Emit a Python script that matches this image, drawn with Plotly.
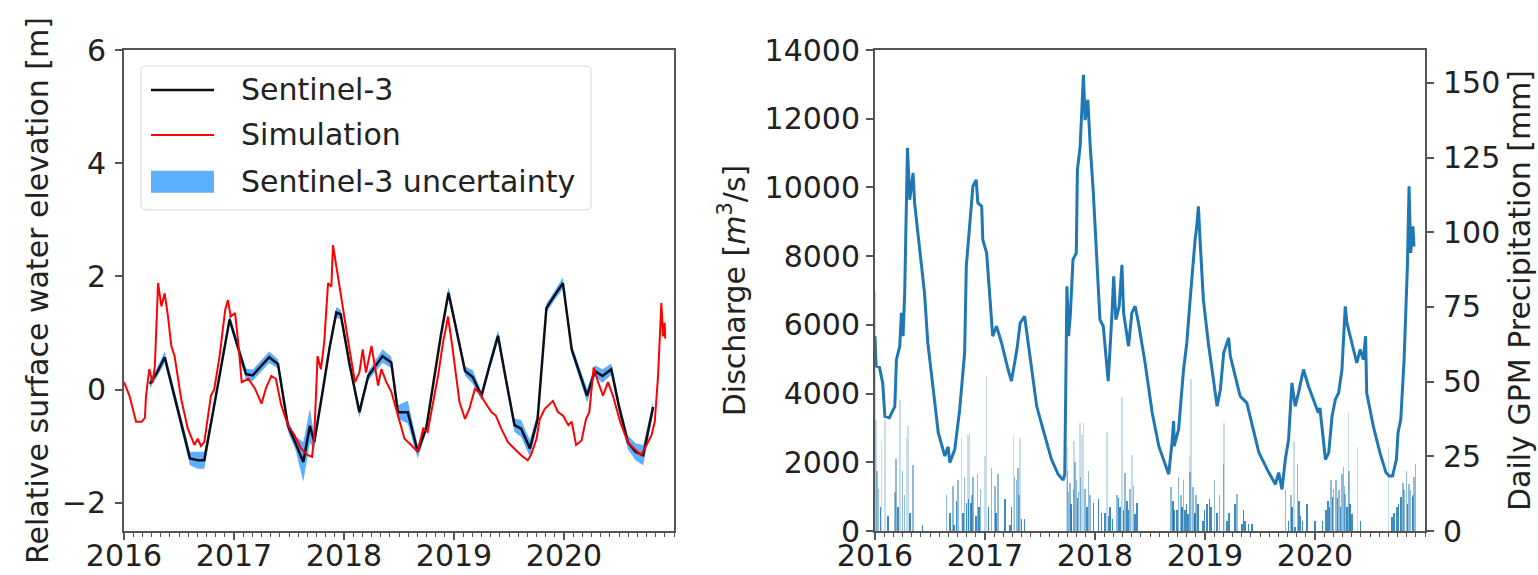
import plotly.graph_objects as go

# ---------------- Left panel data (decimal years) ----------------
s3_t = [2016.235, 2016.30, 2016.37, 2016.45, 2016.52, 2016.60, 2016.67, 2016.73, 2016.81, 2016.88,
        2016.96, 2017.04, 2017.11, 2017.17, 2017.25, 2017.32, 2017.40, 2017.49, 2017.56, 2017.63,
        2017.69, 2017.73, 2017.80, 2017.87, 2017.93, 2017.97, 2018.05, 2018.14, 2018.22, 2018.28,
        2018.35, 2018.43, 2018.49, 2018.58, 2018.67, 2018.75, 2018.82, 2018.88, 2018.95, 2019.03,
        2019.10, 2019.17, 2019.25, 2019.32, 2019.40, 2019.47, 2019.55, 2019.61, 2019.69, 2019.76,
        2019.84, 2019.91, 2019.99, 2020.07, 2020.14, 2020.21, 2020.28, 2020.35, 2020.43, 2020.50,
        2020.58, 2020.65, 2020.72, 2020.81]
s3_v = [0.10, 0.30, 0.57, -0.05, -0.60, -1.22, -1.25, -1.25, -0.39, 0.37,
        1.24, 0.72, 0.27, 0.25, 0.42, 0.57, 0.45, -0.64, -0.95, -1.28,
        -0.64, -0.93, -0.10, 0.75, 1.36, 1.33, 0.45, -0.40, 0.24, 0.40,
        0.59, 0.48, -0.40, -0.40, -1.10, -0.66, 0.20, 0.95, 1.71, 1.00,
        0.33, 0.22, -0.11, 0.40, 0.95, 0.20, -0.63, -0.69, -1.04, -0.52,
        1.44, 1.65, 1.88, 0.71, 0.30, -0.11, 0.33, 0.24, 0.36, -0.30,
        -0.93, -1.10, -1.16, -0.31]
s3_unc = [0.08, 0.08, 0.10, 0.10, 0.10, 0.12, 0.15, 0.15, 0.08, 0.08,
          0.08, 0.08, 0.10, 0.10, 0.10, 0.10, 0.08, 0.10, 0.12, 0.35,
          0.30, 0.12, 0.08, 0.08, 0.10, 0.08, 0.08, 0.10, 0.08, 0.10,
          0.12, 0.10, 0.12, 0.20, 0.12, 0.08, 0.08, 0.08, 0.10, 0.08,
          0.08, 0.12, 0.08, 0.08, 0.10, 0.08, 0.12, 0.15, 0.15, 0.10,
          0.08, 0.08, 0.10, 0.08, 0.08, 0.12, 0.10, 0.12, 0.10, 0.10,
          0.12, 0.15, 0.18, 0.10]

sim_t = [2016.00, 2016.05, 2016.11, 2016.16, 2016.19, 2016.20, 2016.23, 2016.26, 2016.28, 2016.31,
         2016.34, 2016.37, 2016.40, 2016.43, 2016.46, 2016.52, 2016.58, 2016.64, 2016.67, 2016.70,
         2016.73, 2016.79, 2016.82, 2016.87, 2016.92, 2016.945, 2016.97, 2017.01, 2017.04, 2017.07,
         2017.13, 2017.19, 2017.25, 2017.29, 2017.34, 2017.38, 2017.43, 2017.49, 2017.55, 2017.61,
         2017.67, 2017.71, 2017.73, 2017.76, 2017.79, 2017.82, 2017.855, 2017.885, 2017.90, 2017.93,
         2017.98, 2018.04, 2018.10, 2018.14, 2018.17, 2018.20, 2018.25, 2018.28, 2018.31, 2018.34,
         2018.385, 2018.43, 2018.49, 2018.55, 2018.61, 2018.67, 2018.72, 2018.76, 2018.855, 2018.90,
         2018.93, 2018.945, 2018.98, 2019.01, 2019.05, 2019.10, 2019.14, 2019.19, 2019.23, 2019.28,
         2019.34, 2019.38, 2019.43, 2019.49, 2019.55, 2019.61, 2019.67, 2019.70, 2019.75, 2019.78,
         2019.825, 2019.90, 2019.945, 2019.99, 2020.04, 2020.07, 2020.11, 2020.16, 2020.20, 2020.23,
         2020.27, 2020.31, 2020.355, 2020.40, 2020.445, 2020.51, 2020.58, 2020.64, 2020.70, 2020.75,
         2020.795, 2020.825, 2020.855, 2020.885, 2020.90, 2020.915, 2020.92]
sim_v = [0.13, -0.11, -0.57, -0.57, -0.50, -0.11, 0.36, 0.12, 0.40, 1.88,
         1.47, 1.70, 1.29, 0.77, 0.59, -0.17, -0.69, -0.98, -0.87, -1.00,
         -0.93, -0.11, 0.00, 0.60, 1.41, 1.58, 1.29, 1.35, 0.80, 0.13,
         0.19, 0.02, -0.25, 0.02, 0.24, 0.19, -0.28, -0.63, -0.81, -1.04,
         -1.16, -1.19, -0.81, 0.59, 0.36, 0.83, 1.88, 1.82, 2.55, 2.17,
         1.58, 0.83, 0.13, 0.30, 0.71, 0.30, 0.77, 0.42, 0.07, 0.36,
         0.13, -0.04, -0.46, -0.87, -0.98, -1.10, -0.69, -0.75, 0.24, 0.83,
         1.12, 1.29, 0.83, 0.42, -0.22, -0.52, -0.34, 0.01, -0.05, -0.22,
         -0.40, -0.46, -0.69, -0.93, -1.04, -1.16, -1.25, -1.16, -0.87, -0.52,
         -0.34, -0.20, -0.40, -0.46, -0.63, -0.57, -0.98, -0.90, -0.52, -0.40,
         0.39, 0.13, -0.11, 0.13, -0.11, -0.57, -0.93, -1.04, -1.16, -0.98,
         -0.81, -0.57, 0.24, 1.53, 0.94, 1.18, 0.90]

# ---------------- Right panel data ----------------
q_t = [2016.00, 2016.01, 2016.04, 2016.07, 2016.09, 2016.13, 2016.18, 2016.195, 2016.225, 2016.24,
       2016.255, 2016.27, 2016.295, 2016.316, 2016.346, 2016.36, 2016.39, 2016.42, 2016.45, 2016.48,
       2016.53, 2016.575, 2016.635, 2016.665, 2016.68, 2016.725, 2016.77, 2016.815, 2016.83, 2016.86,
       2016.89, 2016.92, 2016.935, 2016.97, 2016.98, 2017.015, 2017.06, 2017.07, 2017.105, 2017.15,
       2017.21, 2017.24, 2017.29, 2017.32, 2017.36, 2017.39, 2017.42, 2017.47, 2017.545, 2017.605,
       2017.665, 2017.71, 2017.725, 2017.745, 2017.76, 2017.775, 2017.80, 2017.83, 2017.84, 2017.865,
       2017.895, 2017.91, 2017.935, 2017.955, 2017.985, 2018.015, 2018.045, 2018.075, 2018.11, 2018.12,
       2018.155, 2018.17, 2018.19, 2018.22, 2018.245, 2018.26, 2018.305, 2018.335, 2018.365, 2018.395,
       2018.455, 2018.52, 2018.58, 2018.67, 2018.70, 2018.715, 2018.72, 2018.76, 2018.805, 2018.835,
       2018.865, 2018.895, 2018.91, 2018.925, 2018.94, 2018.955, 2018.985, 2019.03, 2019.08, 2019.11,
       2019.14, 2019.17, 2019.215, 2019.23, 2019.275, 2019.32, 2019.38, 2019.43, 2019.49, 2019.58,
       2019.64, 2019.67, 2019.70, 2019.73, 2019.76, 2019.79, 2019.82, 2019.85, 2019.895, 2019.94,
       2019.985, 2020.03, 2020.045, 2020.095, 2020.125, 2020.155, 2020.185, 2020.215, 2020.245, 2020.275,
       2020.29, 2020.32, 2020.35, 2020.38, 2020.41, 2020.44, 2020.46, 2020.47, 2020.53, 2020.59,
       2020.645, 2020.675, 2020.705, 2020.74, 2020.755, 2020.78, 2020.81, 2020.84, 2020.855, 2020.87,
       2020.89, 2020.90]
q_v = [5670, 4800, 4770, 4310, 3340, 3300, 3620, 4990, 5380, 6350,
       5670, 6930, 11150, 9640, 10420, 9550, 8670, 7700, 6930, 5480,
       4020, 2860, 2180, 2450, 1990, 2370, 3540, 5190, 7700, 8770,
       10030, 10220, 9550, 9450, 8480, 8090, 6150, 5670, 5960, 5480,
       4700, 4360, 5280, 6060, 6250, 5570, 4800, 3630, 2760, 2080,
       1650, 1480, 1650, 7120, 5670, 6250, 7900, 8090, 10510, 11190,
       13280, 11960, 12550, 11290, 9840, 8090, 6150, 5960, 4510, 4360,
       6350, 7410, 6150, 6540, 7750, 6350, 5380, 6350, 6540, 6060,
       4900, 3440, 2470, 1650, 2570, 3200, 2470, 2960, 4700, 5480,
       6740, 8090, 8480, 8870, 9450, 8480, 6740, 5480, 4220, 3630,
       4120, 5190, 5620, 5090, 4510, 3920, 3730, 3050, 2280, 1700,
       1360, 1700, 1210, 2080, 2670, 4310, 3630, 4020, 4700, 4220,
       3830, 3440, 3580, 2080, 2280, 3340, 3830, 4020, 4700, 6540,
       6060, 5670, 5190, 4890, 5280, 4990, 5670, 4020, 3050, 2280,
       1700, 1600, 1600, 2080, 2860, 3250, 4990, 7700, 10030, 8090,
       8870, 8280]

p_t = [2016.00, 2016.01, 2016.02, 2016.03, 2016.05, 2016.06, 2016.09, 2016.12, 2016.18, 2016.19,
       2016.21, 2016.225, 2016.25, 2016.27, 2016.285, 2016.30, 2016.32, 2016.346, 2016.43, 2016.65,
       2016.68, 2016.71, 2016.72, 2016.74, 2016.756, 2016.786, 2016.80, 2016.815, 2016.83, 2016.845,
       2016.85, 2016.86, 2016.875, 2016.88, 2016.89, 2016.92, 2016.93, 2016.945, 2016.96, 2017.00,
       2017.015, 2017.03, 2017.06, 2017.09, 2017.10, 2017.12, 2017.18, 2017.225, 2017.24, 2017.257,
       2017.27, 2017.285, 2017.30, 2017.31, 2017.318, 2017.33, 2017.36, 2017.743, 2017.75, 2017.758,
       2017.773, 2017.78, 2017.788, 2017.803, 2017.81, 2017.818, 2017.833, 2017.84, 2017.848, 2017.865,
       2017.87, 2017.88, 2017.895, 2017.91, 2017.925, 2017.94, 2017.955, 2017.985, 2018.03, 2018.06,
       2018.09, 2018.107, 2018.122, 2018.137, 2018.16, 2018.20, 2018.213, 2018.228, 2018.244, 2018.259,
       2018.274, 2018.29, 2018.305, 2018.32, 2018.335, 2018.35, 2018.365, 2018.38, 2018.693, 2018.71,
       2018.72, 2018.745, 2018.76, 2018.78, 2018.79, 2018.805, 2018.82, 2018.83, 2018.845, 2018.86,
       2018.866, 2018.875, 2018.89, 2018.905, 2018.91, 2018.92, 2018.935, 2018.98, 2018.995, 2019.02,
       2019.04, 2019.055, 2019.087, 2019.11, 2019.13, 2019.17, 2019.175, 2019.20, 2019.22, 2019.275,
       2019.29, 2019.335, 2019.35, 2019.365, 2019.395, 2019.425, 2019.73, 2019.76, 2019.78, 2019.79,
       2019.81, 2019.82, 2019.84, 2019.855, 2019.87, 2019.885, 2019.925, 2020.00, 2020.07, 2020.10,
       2020.12, 2020.13, 2020.145, 2020.16, 2020.17, 2020.19, 2020.205, 2020.22, 2020.23, 2020.245,
       2020.26, 2020.27, 2020.275, 2020.29, 2020.305, 2020.31, 2020.32, 2020.335, 2020.385, 2020.415,
       2020.67, 2020.70, 2020.72, 2020.745, 2020.76, 2020.78, 2020.80, 2020.81, 2020.83, 2020.84,
       2020.855, 2020.87, 2020.885, 2020.89, 2020.90, 2020.915]
p_v = [80, 37, 20, 14, 8, 30, 37, 5, 13, 24,
       8, 44, 20, 12, 31, 35, 6, 22, 2, 12,
       6, 15, 2, 10, 17, 31, 6, 18, 9.5, 32,
       10.6, 33, 9.5, 12, 18, 5, 19, 8, 14, 25,
       52, 8, 21, 15, 6, 19, 10.6, 2, 8, 32,
       18, 17, 21, 12, 31, 4, 4, 28, 20, 13,
       16, 9, 7, 14, 30, 23, 17, 11, 13, 36,
       18, 32, 36, 14, 8, 20, 12, 9.5, 10.6, 6,
       6, 33, 5, 8, 4, 12, 11, 8, 45, 7,
       19.5, 10, 7, 14, 25.6, 15, 5.6, 9.5, 14.7, 10,
       7, 7, 18, 12, 8, 17, 7, 9, 5.6, 25,
       19.7, 51, 14.7, 5.8, 6, 12, 9, 3.5, 7, 9,
       10.8, 8, 17, 6, 12, 22.5, 36, 3.5, 6, 9,
       12.5, 2.5, 7, 3.5, 2.5, 2.5, 13.6, 3.5, 12, 8,
       30, 1.3, 22.5, 10, 5, 3.5, 9, 3.5, 3.5, 7,
       10, 8, 17, 11.4, 14, 17, 11, 13.6, 8, 19,
       21.4, 15, 12.5, 8, 40, 20, 9, 5.8, 28, 3.5,
       28, 4.7, 6, 8, 9, 11.4, 16, 13.6, 20, 9,
       15.8, 13.6, 11.4, 12, 18, 22.5]

year_ticks = [2016, 2017, 2018, 2019, 2020]
year_labels = ["2016", "2017", "2018", "2019", "2020"]
legend_labels = ["Sentinel-3", "Simulation", "Sentinel-3 uncertainty"]

# derived band
s3_upper = [v + u for v, u in zip(s3_v, s3_unc)]
s3_lower = [v - u for v, u in zip(s3_v, s3_unc)]

# bar shading: tall single-day bars look faint, short clustered ones darker
bar_colors = []
for p in p_v:
    if p < 12:
        a = 0.85
    elif p < 25:
        a = 0.5
    else:
        a = 0.25
    bar_colors.append(f"rgba(31,119,180,{a})")

FONT = "DejaVu Sans"
TXT = "#222222"
SPINE = "#555555"
BAND = "rgba(30,144,255,0.72)"
BLACK = "#0b0f1a"

fig = go.Figure()

# left panel
fig.add_trace(go.Scatter(x=s3_t, y=s3_lower, mode="lines", line=dict(width=0, color="rgba(0,0,0,0)"),
                         showlegend=False, hoverinfo="skip", xaxis="x", yaxis="y"))
fig.add_trace(go.Scatter(x=s3_t, y=s3_upper, mode="lines", line=dict(width=0, color=BAND),
                         fill="tonexty", fillcolor=BAND, name=legend_labels[2], showlegend=False,
                         xaxis="x", yaxis="y"))
fig.add_trace(go.Scatter(x=s3_t, y=s3_v, mode="lines", line=dict(color=BLACK, width=2.5),
                         name=legend_labels[0], showlegend=False, xaxis="x", yaxis="y"))
fig.add_trace(go.Scatter(x=sim_t, y=sim_v, mode="lines", line=dict(color="red", width=2),
                         name=legend_labels[1], showlegend=False, xaxis="x", yaxis="y"))

# right panel
fig.add_trace(go.Bar(x=p_t, y=p_v, width=0.014, marker=dict(color=bar_colors, line=dict(width=0)),
                     showlegend=False, xaxis="x2", yaxis="y3"))
fig.add_trace(go.Scatter(x=q_t, y=q_v, mode="lines", line=dict(color="#1f77b4", width=3),
                         showlegend=False, xaxis="x2", yaxis="y4"))

W, H = 1538, 575
L, R, T, B = 124, 113, 50, 43.5
pw = W - L - R
ph = H - T - B
left_dom = [0, 550 / pw]
right_dom = [(875 - L) / pw, 1]


def px_x(px):
    return (px - L) / pw


def px_y(py):
    return 1 - (py - T) / ph


# ---- legend box (drawn as layout decoration, like matplotlib's legend) ----
bx0, bx1, by0, by1 = px_x(141), px_x(591), px_y(66), px_y(210)
rx, ry = 5 / pw, 5 / ph
box_path = (f"M {bx0 + rx},{by0} L {bx1 - rx},{by0} Q {bx1},{by0} {bx1},{by0 - ry} "
            f"L {bx1},{by1 + ry} Q {bx1},{by1} {bx1 - rx},{by1} "
            f"L {bx0 + rx},{by1} Q {bx0},{by1} {bx0},{by1 + ry} "
            f"L {bx0},{by0 - ry} Q {bx0},{by0} {bx0 + rx},{by0} Z")
row_y = [90, 135, 182]
shapes = [
    dict(type="path", xref="paper", yref="paper", path=box_path,
         fillcolor="rgba(255,255,255,0.85)", line=dict(color="#d6d6d6", width=1)),
    dict(type="line", xref="paper", yref="paper", x0=px_x(151), x1=px_x(214),
         y0=px_y(row_y[0]), y1=px_y(row_y[0]), line=dict(color=BLACK, width=2.5)),
    dict(type="line", xref="paper", yref="paper", x0=px_x(151), x1=px_x(214),
         y0=px_y(row_y[1]), y1=px_y(row_y[1]), line=dict(color="red", width=2)),
    dict(type="rect", xref="paper", yref="paper", x0=px_x(151), x1=px_x(214),
         y0=px_y(row_y[2] - 11), y1=px_y(row_y[2] + 11), fillcolor=BAND, line=dict(width=0)),
]
annotations = [
    dict(xref="paper", yref="paper", x=px_x(239), y=px_y(yy), text=lab, showarrow=False,
         xanchor="left", yanchor="middle", font=dict(size=30, color=TXT, family=FONT))
    for lab, yy in zip(legend_labels, row_y)
]

xcommon = dict(range=[2016, 2021], tickmode="array", tickvals=year_ticks, ticktext=year_labels,
               ticks="outside", ticklen=7, tickwidth=1.5, tickcolor=SPINE, ticklabelstandoff=-10,
               minor=dict(tickmode="linear", tick0=2016, dtick=1 / 12, ticks="outside", ticklen=4,
                          tickwidth=1, tickcolor=SPINE),
               showline=True, linecolor=SPINE, linewidth=2, mirror=True, automargin=False,
               showgrid=False, zeroline=False, tickfont=dict(size=30, color=TXT, family=FONT))

fig.update_layout(
    width=W, height=H,
    margin=dict(l=L, r=R, t=T, b=B, autoexpand=False),
    paper_bgcolor="white", plot_bgcolor="white",
    font=dict(family=FONT, size=30, color=TXT),
    bargap=0,
    showlegend=False,
    shapes=shapes,
    annotations=annotations,
    xaxis=dict(domain=left_dom, anchor="y", **xcommon),
    xaxis2=dict(domain=right_dom, anchor="y3", **xcommon),
    yaxis=dict(domain=[0, 1], anchor="x", range=[-2.5, 6], tickvals=[-2, 0, 2, 4, 6],
               ticks="outside", ticklen=7, tickwidth=1.5, tickcolor=SPINE, ticklabelstandoff=3,
               showline=True, linecolor=SPINE, linewidth=2, mirror=True, automargin=False,
               showgrid=False, zeroline=False,
               title=dict(text="Relative surface water elevation [m]", standoff=4,
                          font=dict(size=30, color=TXT, family=FONT))),
    yaxis3=dict(domain=[0, 1], anchor="x2", side="right", range=[0, 161],
                tickvals=[0, 25, 50, 75, 100, 125, 150],
                ticks="outside", ticklen=7, tickwidth=1.5, tickcolor=SPINE, ticklabelstandoff=3,
                showline=True, linecolor=SPINE, linewidth=2, automargin=False,
                showgrid=False, zeroline=False,
                title=dict(text="Daily GPM Precipitation [mm]", standoff=10,
                           font=dict(size=30, color=TXT, family=FONT))),
    yaxis4=dict(anchor="x2", overlaying="y3", side="left", range=[0, 14000],
                tickvals=[0, 2000, 4000, 6000, 8000, 10000, 12000, 14000], tickformat="d",
                ticks="outside", ticklen=7, tickwidth=1.5, tickcolor=SPINE,
                showline=True, linecolor=SPINE, linewidth=2, automargin=False,
                showgrid=False, zeroline=False,
                title=dict(text="Discharge [<i>m</i><sup>3</sup>/s]", standoff=10,
                           font=dict(size=30, color=TXT, family=FONT))),
)

post = (
    "document.body.style.margin='0px';"
    "var st=document.createElement('style');"
    "st.textContent='.modebar-container{display:none !important;}';"
    "document.head.appendChild(st);"
)

fig.write_html("out.html", post_script=post)
